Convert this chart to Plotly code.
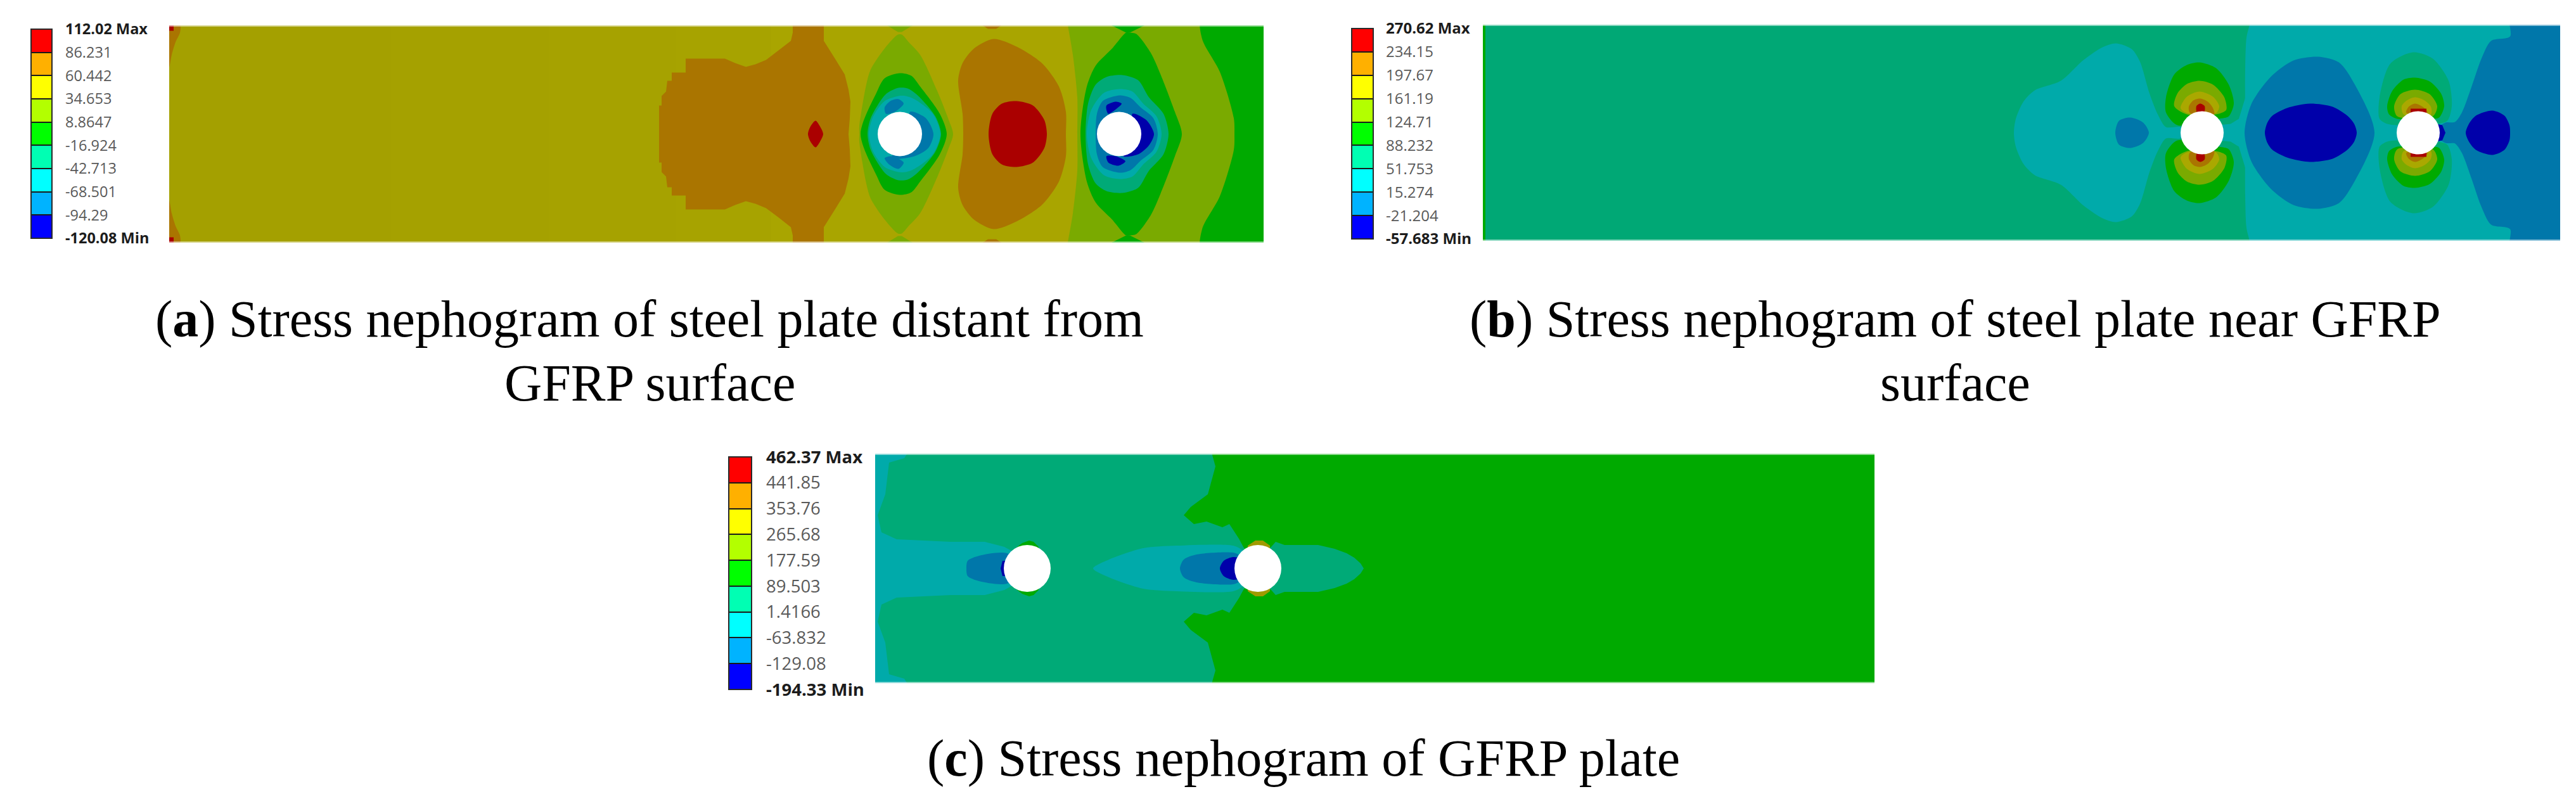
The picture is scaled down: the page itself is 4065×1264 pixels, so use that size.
import plotly.graph_objects as go

W, H = 4065, 1264
# the page body keeps an 8 px margin, so the figure itself is 16 px smaller
PAD = 8
FW, FH = W - 2 * PAD, H - 2 * PAD

# ---------- legend values ----------
LABELS_A = ["-120.08 Min", "-94.29", "-68.501", "-42.713", "-16.924", "8.8647", "34.653", "60.442", "86.231", "112.02 Max"]
LABELS_B = ["-57.683 Min", "-21.204", "15.274", "51.753", "88.232", "124.71", "161.19", "197.67", "234.15", "270.62 Max"]
LABELS_C = ["-194.33 Min", "-129.08", "-63.832", "1.4166", "89.503", "177.59", "265.68", "353.76", "441.85", "462.37 Max"]
BAND_COLORS = ["#0000FF", "#00B3FF", "#00FFFF", "#00FFB3", "#00FF00", "#B3FF00", "#FFFF00", "#FFB000", "#FF0000"]

CAPTIONS = ["(<b>a</b>) Stress nephogram of steel plate distant from", "GFRP surface",
            "(<b>b</b>) Stress nephogram of steel plate near GFRP", "surface",
            "(<b>c</b>) Stress nephogram of GFRP plate"]

# contour colours (dimmed rendering of the bands)
RED, BROWN, YEL, OLV, GRN, TGR, TEAL, BLU, DBL = ("#AA0000", "#AA7500", "#AAA800", "#7AAA00", "#00AA00",
                                                   "#00AA77", "#00AAAA", "#0077AA", "#0000AA")

# ---------- plate A outlines (length along plate, height from centre line) ----------
A_SIZE = (1727, 171.5)
A_HOLES = [(1153, 0), (1499, 0)]
A_HOLE_R = 35
A_BASE_STOPS = [0, 350, 600, 800, 950, 1740]
A_BASE_COLORS = ["#A4A000", "#A5A100", "#A6A200", "#A7A300", "#A9A500"]
A_EDGE = [(0, 105), (4, 125), (10, 145), (17, 160), (17, 172), (0, 172)]
A_CORNER = [(0, 163), (7, 163), (7, 172), (0, 172)]
A_BULK = [(773, 0), (773, 45), (777, 45), (777, 60), (784, 67), (786, 84), (793, 84), (793, 97), (815, 97), (815, 119),
          (877, 119), (893, 112), (910, 106), (925, 110), (942, 117), (962, 132), (981, 147), (984, 160), (984, 172),
          (1033, 172), (1033, 147), (1050, 120), (1066, 94), (1072, 70), (1075, 51), (1074, 25), (1072, 0)]
A_LENS = [(1008, 0), (1012, 12), (1020, 21), (1027, 12), (1032, 0)]
A_MID = [(1253, 0), (1252, 32), (1245, 85), (1252, 112), (1270, 135), (1301, 150), (1337, 138), (1377, 112),
         (1404, 75), (1415, 35), (1415, 0)]
A_CORE = [(1293, 0), (1299, 32), (1314, 48), (1337, 52), (1363, 45), (1381, 22), (1385, 0)]
A_CAP_MID = [(1283, 172), (1292, 166), (1305, 166), (1314, 172)]
A_H1_OLV = [(1089, 0), (1089, 12), (1100, 78), (1107, 102), (1129, 135), (1150, 157), (1156, 157), (1167, 145),
            (1185, 125), (1212, 68), (1229, 25), (1237, 0)]
A_H1_CAP = [(1132, 172), (1174, 172), (1156, 161), (1150, 161)]
A_H1_GRN = [(1091, 0), (1116, 65), (1129, 88), (1153, 96), (1171, 92), (1185, 75), (1216, 32), (1227, 0)]
A_H1_TGR = [(1102, 0), (1107, 25), (1131, 63), (1151, 73), (1165, 72), (1180, 62), (1209, 28), (1218, 0)]
A_H1_TEAL = [(1104, 0), (1111, 28), (1129, 52), (1151, 60), (1162, 60), (1176, 55), (1205, 32), (1217, 0)]
A_H1_UP = [(1129, 42), (1138, 52), (1151, 55), (1159, 48), (1145, 35), (1131, 32)]
A_H1_RIGHT = [(1169, 35), (1194, 25), (1206, 0), (1198, -22), (1176, -35), (1140, -38), (1167, 0)]
A_H1_LOW = [(1129, -38), (1140, -35), (1159, -45), (1151, -55), (1136, -48)]
A_RIGHT_OLV = [(1433, 0), (1433, 58), (1426, 125), (1418, 172), (1416, 185), (1740, 185), (1740, 0)]
A_RIGHT_GRN = [(1681, 0), (1680, 25), (1658, 98), (1630, 150), (1629, 185), (1740, 185), (1740, 0)]
A_H2_GRN = [(1438, 0), (1448, 75), (1462, 108), (1488, 135), (1510, 160), (1516, 160), (1526, 158), (1549, 128),
            (1564, 95), (1587, 35), (1598, 0)]
A_H2_CAP = [(1486, 172), (1540, 172), (1516, 160), (1510, 160)]
A_H2_TGR = [(1446, 0), (1450, 48), (1462, 78), (1479, 90), (1504, 93), (1529, 85), (1546, 58), (1569, 32), (1577, 0)]
A_H2_TEAL = [(1448, 0), (1455, 38), (1475, 65), (1500, 71), (1520, 67), (1537, 48), (1558, 28), (1566, 0)]
A_H2_BLU = [(1462, 0), (1464, 32), (1473, 52), (1500, 61), (1517, 57), (1533, 42), (1553, 25), (1560, 0)]
A_H2_UP = [(1479, 45), (1493, 51), (1503, 48), (1495, 40), (1482, 32), (1479, 38)]
A_H2_RIGHT = [(1520, 32), (1542, 22), (1554, 0), (1546, -18), (1529, -32), (1506, -35), (1524, -8)]
A_H2_LOW = [(1479, -35), (1493, -35), (1509, -43), (1498, -50), (1482, -45)]

# ---------- plate B outlines ----------
B_SIZE = (1700, 170.5)
B_HOLES = [(1135, 0), (1476, 0)]
B_HOLE_R = 34
B_BASE = [(0, 0), (0, 185), (1710, 185), (1710, 0)]
B_EDGE = [(0, 0), (0, 172), (4, 172), (4, 0)]
B_LEFT_TEAL = [(838, 0), (841, 22), (853, 49), (871, 67), (912, 82), (948, 115), (978, 135), (999, 141), (1024, 132),
               (1037, 112), (1052, 62), (1065, 29), (1078, 9), (1101, 9), (1110, 0)]
B_LEFT_BLU = [(998, 0), (1004, 19), (1022, 24), (1042, 16), (1051, 0)]
B_THROAT = [(1160, 0), (1160, 12), (1180, 14), (1193, 22), (1203, 55), (1210, 0)]
B_RIGHT_TEAL = [(1203, 0), (1203, 100), (1205, 150), (1210, 172), (1210, 185), (1710, 185), (1710, 0)]
B_MID_BLU = [(1202, 0), (1213, 46), (1244, 89), (1279, 114), (1318, 120), (1351, 111), (1376, 76), (1407, 0)]
B_MID_DBL = [(1234, 0), (1238, 16), (1246, 27), (1269, 39), (1305, 46), (1341, 41), (1364, 27), (1375, 14), (1379, 0)]
B_RIGHT_BLU = [(1500, 0), (1519, 16), (1534, 17), (1545, 32), (1560, 72), (1575, 115), (1591, 145), (1621, 152),
               (1621, 185), (1710, 185), (1710, 0)]
B_RIGHT_DBL = [(1551, 0), (1556, 14), (1567, 27), (1593, 35), (1612, 27), (1620, 12), (1621, 0)]
B_CRESCENT = [(1505, 0), (1505, 14), (1514, 12), (1519, 0)]
B_L1_GRN = [(1096, 12), (1078, 32), (1078, 56), (1091, 92), (1111, 107), (1131, 111), (1157, 102), (1177, 76), (1185, 46),
            (1177, 26), (1162, 22)]
B_L1_OLV = [(1091, 42), (1096, 62), (1111, 77), (1131, 82), (1152, 76), (1170, 56), (1173, 36), (1157, 29), (1111, 29)]
B_L1_YEL = [(1101, 39), (1111, 57), (1131, 65), (1152, 57), (1162, 42), (1157, 31), (1111, 31)]
B_L1_BRN = [(1114, 41), (1121, 51), (1132, 54), (1144, 49), (1152, 39), (1154, 29), (1116, 31)]
B_L1_RED = [(1126, 42), (1132, 46), (1139, 42), (1138, 32), (1127, 32)]
B_L2_TGR = [(1415, 22), (1415, 56), (1432, 109), (1468, 127), (1499, 117), (1524, 82), (1529, 42), (1522, 19), (1506, 14),
            (1443, 12), (1427, 14)]
B_L2_GRN = [(1427, 42), (1435, 66), (1453, 84), (1471, 87), (1494, 81), (1512, 62), (1517, 42), (1509, 24), (1496, 22),
            (1443, 22), (1430, 29)]
B_L2_OLV = [(1438, 42), (1448, 61), (1471, 68), (1494, 61), (1506, 42), (1499, 26), (1443, 26)]
B_L2_YEL = [(1450, 42), (1458, 51), (1471, 56), (1486, 51), (1496, 41), (1496, 29), (1453, 29)]
B_L2_BRN = [(1457, 32), (1461, 41), (1471, 46), (1483, 41), (1491, 32), (1473, 28)]
B_L2_RED = [(1464, 30), (1464, 38), (1489, 38), (1489, 30)]

# ---------- plate C outlines ----------
C_SIZE = (1577, 181)
C_HOLES = [(240, 0), (604, 0)]
C_HOLE_R = 37
C_BASE = [(0, 0), (0, 195), (1590, 195), (1590, 0)]
C_TGR = [(-5, 0), (-5, 190), (529, 190), (533, 175), (537, 161), (525, 117), (498, 97), (487, 84), (503, 70), (523, 74),
         (548, 65), (559, 70), (574, 47), (581, 34), (588, 24), (604, 20), (625, 34), (632, 42), (646, 37), (699, 37),
         (725, 31), (744, 24), (756, 17), (766, 8), (771, 0)]
C_TEAL = [(-5, 0), (-5, 190), (56, 190), (46, 174), (22, 167), (16, 117), (4, 84), (10, 57), (34, 46), (119, 42), (173, 42),
          (204, 34), (222, 24), (240, 0)]
C_H1_BLU = [(144, 0), (146, 12), (164, 20), (208, 24), (240, 0)]
C_H1_DBL = [(198, 0), (201, 12), (215, 12), (215, 0)]
C_H1_CAP = [(224, 28), (224, 34), (232, 40), (243, 44), (250, 42), (258, 34), (258, 28)]
C_H2_TEAL = [(344, 0), (369, 14), (423, 32), (476, 36), (565, 36), (579, 29), (604, 0)]
C_H2_BLU = [(481, 0), (487, 14), (507, 22), (565, 25), (577, 20), (604, 0)]
C_H2_DBL = [(544, 0), (550, 12), (565, 18), (579, 15), (604, 0)]
C_H2_CAP = [(588, 28), (588, 36), (600, 44), (612, 44), (623, 36), (623, 28)]


def fx(a):
    return (a - PAD) / FW


def fy(a):
    return 1 - (a - PAD) / FH


def dom_x(a, b):
    return [fx(a), fx(b)]


def dom_y(top, bottom):
    return [fy(bottom), fy(top)]


fig = go.Figure()


def region(ax, color, pts, mode="closed", smooth=True):
    """closed: upper half outline mirrored about the centre line; copy: same polygon above and below; raw: as given."""
    xs = [p[0] for p in pts]
    ys = [p[1] for p in pts]
    if mode == "closed":
        x = xs + xs[-2::-1]
        y = ys + [-v for v in ys[-2::-1]]
    elif mode == "copy":
        x = xs + [xs[0], None] + xs + [xs[0]]
        y = ys + [ys[0], None] + [-v for v in ys] + [-ys[0]]
    else:
        x = xs + [xs[0]]
        y = ys + [ys[0]]
    fig.add_trace(go.Scatter(x=x, y=y, mode="lines", fill="toself", fillcolor=color,
                             line=dict(width=0, color=color, shape="spline" if smooth else "linear", smoothing=0.8),
                             xaxis="x" + ax, yaxis="y" + ax, hoverinfo="skip", showlegend=False))


# plate A
for i, col in enumerate(A_BASE_COLORS):
    a, b = A_BASE_STOPS[i], A_BASE_STOPS[i + 1]
    region("", col, [(a, 0), (a, 185), (b, 185), (b, 0)], "closed", False)
for col, pts, mode, sm in [
    (BROWN, A_EDGE, "copy", True), (RED, A_CORNER, "copy", False),
    (BROWN, A_BULK, "closed", False), (RED, A_LENS, "closed", True),
    (BROWN, A_MID, "closed", True), (RED, A_CORE, "closed", True), (BROWN, A_CAP_MID, "copy", False),
    (OLV, A_RIGHT_OLV, "closed", True), (GRN, A_RIGHT_GRN, "closed", True),
    (OLV, A_H1_OLV, "closed", True), (OLV, A_H1_CAP, "copy", False),
    (GRN, A_H1_GRN, "closed", True), (TGR, A_H1_TGR, "closed", True), (TEAL, A_H1_TEAL, "closed", True),
    (BLU, A_H1_UP, "raw", True), (BLU, A_H1_RIGHT, "raw", True), (BLU, A_H1_LOW, "raw", True),
    (GRN, A_H2_GRN, "closed", True), (GRN, A_H2_CAP, "copy", False),
    (TGR, A_H2_TGR, "closed", True), (TEAL, A_H2_TEAL, "closed", True), (BLU, A_H2_BLU, "closed", True),
    (DBL, A_H2_UP, "raw", True), (DBL, A_H2_RIGHT, "raw", True), (DBL, A_H2_LOW, "raw", True),
]:
    region("", col, pts, mode, sm)

# plate B
for col, pts, mode, sm in [
    ("#00A875", B_BASE, "closed", False), (GRN, B_EDGE, "closed", False),
    (TEAL, B_LEFT_TEAL, "closed", True), (BLU, B_LEFT_BLU, "closed", True),
    (TEAL, B_RIGHT_TEAL, "closed", True), (TEAL, B_THROAT, "closed", False),
    (BLU, B_MID_BLU, "closed", True), (DBL, B_MID_DBL, "closed", True),
    (BLU, B_RIGHT_BLU, "closed", True), (DBL, B_RIGHT_DBL, "closed", True), (DBL, B_CRESCENT, "closed", False),
    (GRN, B_L1_GRN, "copy", True), (OLV, B_L1_OLV, "copy", True), (YEL, B_L1_YEL, "copy", True),
    (BROWN, B_L1_BRN, "copy", True), (RED, B_L1_RED, "copy", True),
    (TGR, B_L2_TGR, "copy", True), (GRN, B_L2_GRN, "copy", True), (OLV, B_L2_OLV, "copy", True),
    (YEL, B_L2_YEL, "copy", True), (BROWN, B_L2_BRN, "copy", True), (RED, B_L2_RED, "copy", False),
]:
    region("2", col, pts, mode, sm)

# plate C
for col, pts, mode, sm in [
    (GRN, C_BASE, "closed", False), (TGR, C_TGR, "closed", False), (TEAL, C_TEAL, "closed", False),
    (BLU, C_H1_BLU, "closed", True), (DBL, C_H1_DBL, "closed", False), (GRN, C_H1_CAP, "copy", False),
    (TEAL, C_H2_TEAL, "closed", True), (BLU, C_H2_BLU, "closed", True), (DBL, C_H2_DBL, "closed", True),
    ("#A09A00", C_H2_CAP, "copy", False),
]:
    region("3", col, pts, mode, sm)

# pale top / bottom rims of the plates
for ax, size in [("", A_SIZE), ("2", B_SIZE), ("3", C_SIZE)]:
    L, hh = size
    fig.add_trace(go.Scatter(x=[0, L, None, 0, L], y=[hh, hh, None, -hh, -hh], mode="lines",
                             line=dict(color="rgba(255,255,255,0.55)", width=4),
                             xaxis="x" + ax, yaxis="y" + ax, hoverinfo="skip", showlegend=False))

# colour legends
scale = []
for i, c in enumerate(BAND_COLORS):
    scale += [[i / 9, c], [(i + 1) / 9, c]]
for ax in ["4", "5", "6"]:
    fig.add_trace(go.Heatmap(z=[[i] for i in range(9)], x=[0], y=[i + 0.5 for i in range(9)],
                             colorscale=scale, zmin=-0.5, zmax=8.5, showscale=False, ygap=2,
                             xaxis="x" + ax, yaxis="y" + ax, hoverinfo="skip"))

layout = dict(width=FW, height=FH, margin=dict(l=0, r=0, t=0, b=0, pad=0, autoexpand=False),
              paper_bgcolor="white", plot_bgcolor="#1a1a1a", showlegend=False, shapes=[], annotations=[])


def hidden(domain, rng, anchor):
    return dict(domain=domain, range=rng, anchor=anchor, visible=False, fixedrange=True, automargin=False)


plates = [("", 267, 1994, 40, 383, A_SIZE, A_HOLES, A_HOLE_R),
          ("2", 2340, 4040, 39, 380, B_SIZE, B_HOLES, B_HOLE_R),
          ("3", 1381, 2958, 716, 1078, C_SIZE, C_HOLES, C_HOLE_R)]
for name, x0, x1, y0, y1, size, holes, r in plates:
    layout["xaxis" + name] = hidden(dom_x(x0, x1), [0, size[0]], "y" + name)
    layout["yaxis" + name] = hidden(dom_y(y0, y1), [-size[1], size[1]], "x" + name)
    for cx, cy in holes:
        layout["shapes"].append(dict(type="circle", xref="x" + name, yref="y" + name, x0=cx - r, x1=cx + r,
                                     y0=cy - r, y1=cy + r, fillcolor="white", line=dict(width=0), layer="above"))

bars = [("4", 49, 82, 46, 376, LABELS_A, 23.5, 20),
        ("5", 2133, 2167, 45, 377, LABELS_B, 24, 19),
        ("6", 1150, 1186, 721, 1088, LABELS_C, 27.5, 22)]
for ax, x0, x1, y0, y1, labels, fs, gap in bars:
    text = list(labels)
    text[0] = '<b><span style="color:#1c1c1c">%s</span></b>' % labels[0]
    text[-1] = '<b><span style="color:#1c1c1c">%s</span></b>' % labels[-1]
    layout["xaxis" + ax] = hidden(dom_x(x0, x1), [-0.5, 0.5], "y" + ax)
    layout["yaxis" + ax] = dict(domain=dom_y(y0, y1), range=[0, 9], anchor="x" + ax, side="right", fixedrange=True,
                                tickmode="array", tickvals=list(range(10)), ticktext=text, ticks="",
                                ticklabelstandoff=gap, showgrid=False, zeroline=False, showline=False, automargin=False,
                                tickfont=dict(family="Open Sans", size=fs, color="#5a5a5a"))
    layout["shapes"].append(dict(type="rect", xref="paper", yref="paper", x0=fx(x0), x1=fx(x1), y0=fy(y1), y1=fy(y0),
                                 line=dict(color="#2a2a2a", width=2), fillcolor="rgba(0,0,0,0)", layer="above"))

cap_pos = [(1025, 504), (1025, 604), (3085, 504), (3085, 604), (2057, 1196)]
for t, (cx, cy) in zip(CAPTIONS, cap_pos):
    layout["annotations"].append(dict(text=t, x=fx(cx), y=fy(cy), xref="paper", yref="paper", showarrow=False,
                                      xanchor="center", yanchor="middle",
                                      font=dict(family="Liberation Serif", size=82, color="black")))

fig.update_layout(**layout)
fig.write_html("out.html")
